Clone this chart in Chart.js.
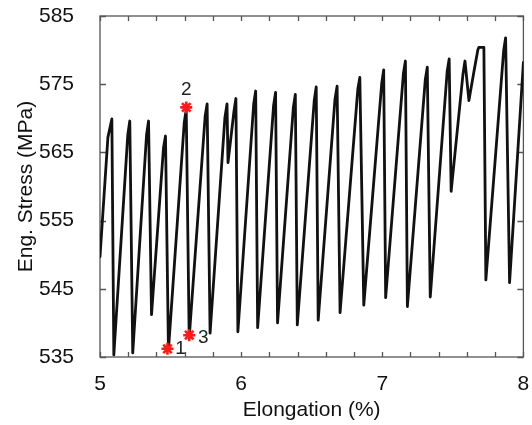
<!DOCTYPE html>
<html>
<head>
<meta charset="utf-8">
<script src="https://cdn.jsdelivr.net/npm/chart.js@4.4.0/dist/chart.umd.min.js"></script>
<style>
html, body { margin: 0; padding: 0; background: #fff; }
</style>
</head>
<body>
<canvas id="stressChart" width="532" height="425"></canvas>
<script>
// Eğri verileri
const elongation = [
  5.000, 5.056, 5.084, 5.098, 5.197, 5.211, 5.232, 5.330, 5.344, 5.365,
  5.450, 5.464, 5.485, 5.597, 5.611, 5.632, 5.745, 5.759, 5.780, 5.885,
  5.900, 5.907, 5.949, 5.963, 5.977, 6.089, 6.103, 6.117, 6.230, 6.244,
  6.258, 6.370, 6.384, 6.398, 6.518, 6.532, 6.546, 6.665, 6.680, 6.701,
  6.827, 6.841, 6.869, 6.996, 7.010, 7.024, 7.150, 7.164, 7.178, 7.305,
  7.319, 7.340, 7.460, 7.474, 7.488, 7.572, 7.586, 7.614, 7.649, 7.677,
  7.684, 7.720, 7.734, 7.860, 7.874, 7.902, 8.000
];
const stress = [
  549.7, 567.2, 569.9, 535.3, 567.6, 569.6, 535.6, 567.6, 569.6, 541.2,
  565.7, 567.4, 536.0, 569.4, 571.3, 537.8, 570.3, 572.1, 538.5, 570.1,
  572.1, 563.5, 571.0, 572.9, 538.7, 572.1, 574.0, 539.3, 571.9, 573.8,
  540.0, 571.6, 573.5, 539.7, 572.6, 574.6, 540.4, 572.8, 574.7, 541.5,
  574.3, 576.0, 542.6, 575.1, 577.1, 543.7, 576.6, 578.4, 542.4, 575.7,
  577.5, 543.8, 576.9, 578.7, 559.3, 576.5, 578.4, 572.6, 576.8, 580.0,
  580.4, 580.4, 546.3, 579.9, 581.8, 545.9, 578.2
];

// İşaretli noktalar
const markerX = [5.478, 5.611, 5.632];
const markerY = [536.2, 571.6, 538.2];
const markerLabels = ['1', '2', '3'];

// Eksen sınırları
const xMin = 5, xMax = 8, xStep = 0.2;
const yMin = 535, yMax = 585, yStep = 10;
const xLabelValues = [5, 6, 7, 8];

const FONT = '"Liberation Sans", Arial, sans-serif';

// Çerçeve ve içe dönük tikler
const frameTicks = {
  id: 'frameTicks',
  beforeDatasetsDraw(chart) {
    const { ctx, chartArea: a, scales } = chart;
    ctx.save();
    ctx.strokeStyle = '#555';
    ctx.lineWidth = 1.3;
    ctx.strokeRect(a.left, a.top, a.right - a.left, a.bottom - a.top);
    ctx.beginPath();
    scales.x.ticks.forEach(t => {
      const px = Math.round(scales.x.getPixelForValue(t.value)) + 0.5;
      ctx.moveTo(px, a.bottom); ctx.lineTo(px, a.bottom - 5);
      ctx.moveTo(px, a.top); ctx.lineTo(px, a.top + 5);
    });
    scales.y.ticks.forEach(t => {
      const py = Math.round(scales.y.getPixelForValue(t.value)) + 0.5;
      ctx.moveTo(a.left, py); ctx.lineTo(a.left + 6, py);
      ctx.moveTo(a.right, py); ctx.lineTo(a.right - 6, py);
    });
    ctx.stroke();
    ctx.restore();
  },
  afterDraw(chart) {
    const { ctx, scales } = chart;
    const offsets = [[13, 0], [0, -18], [14, 3]];
    ctx.save();
    ctx.fillStyle = '#222';
    ctx.font = '19px ' + FONT;
    ctx.textAlign = 'center';
    ctx.textBaseline = 'middle';
    markerLabels.forEach((txt, i) => {
      const px = scales.x.getPixelForValue(markerX[i]) + offsets[i][0];
      const py = scales.y.getPixelForValue(markerY[i]) + offsets[i][1];
      ctx.fillText(txt, px, py);
    });
    ctx.restore();
  }
};

document.addEventListener('DOMContentLoaded', function() {
  const ctx = document.getElementById('stressChart').getContext('2d');
  new Chart(ctx, {
    type: 'scatter',
    data: {
      datasets: [{
        data: elongation.map((x, i) => ({ x: x, y: stress[i] })),
        showLine: true,
        borderColor: '#111',
        borderWidth: 2.8,
        borderJoinStyle: 'round',
        borderCapStyle: 'round',
        pointRadius: 0,
        tension: 0,
        order: 2
      }, {
        data: markerX.map((x, i) => ({ x: x, y: markerY[i] })),
        showLine: false,
        pointStyle: 'star',
        pointRadius: 6,
        borderColor: '#ff1a1a',
        backgroundColor: '#ff1a1a',
        borderWidth: 2.6,
        order: 1
      }]
    },
    options: {
      responsive: false,
      animation: false,
      devicePixelRatio: 1,
      layout: { padding: { top: 16, right: 5, left: 0, bottom: 0 } },
      plugins: { legend: { display: false }, tooltip: { enabled: false } },
      scales: {
        x: {
          type: 'linear',
          min: xMin, max: xMax,
          grid: { display: false },
          border: { display: false },
          ticks: {
            stepSize: xStep,
            autoSkip: false,
            maxRotation: 0,
            padding: 7,
            color: '#111',
            font: { family: FONT, size: 21 },
            callback: v => xLabelValues.some(l => Math.abs(l - v) < 1e-6) ? String(Math.round(v)) : ''
          },
          title: {
            display: true,
            text: 'Elongation (%)',
            color: '#111',
            font: { family: FONT, size: 21 },
            padding: { top: 2, bottom: 2 }
          },
          afterFit: s => { s.height = 68; s.paddingLeft = 0; s.paddingRight = 0; }
        },
        y: {
          type: 'linear',
          min: yMin, max: yMax,
          grid: { display: false },
          border: { display: false },
          ticks: {
            stepSize: yStep,
            padding: 18,
            color: '#111',
            font: { family: FONT, size: 21 }
          },
          title: {
            display: true,
            text: 'Eng. Stress (MPa)',
            color: '#111',
            font: { family: FONT, size: 21 },
            padding: { top: 14, bottom: 0 }
          },
          afterFit: s => { s.width = 100; s.paddingTop = 0; s.paddingBottom = 0; }
        }
      }
    },
    plugins: [frameTicks]
  });
});
</script>
</body>
</html>
